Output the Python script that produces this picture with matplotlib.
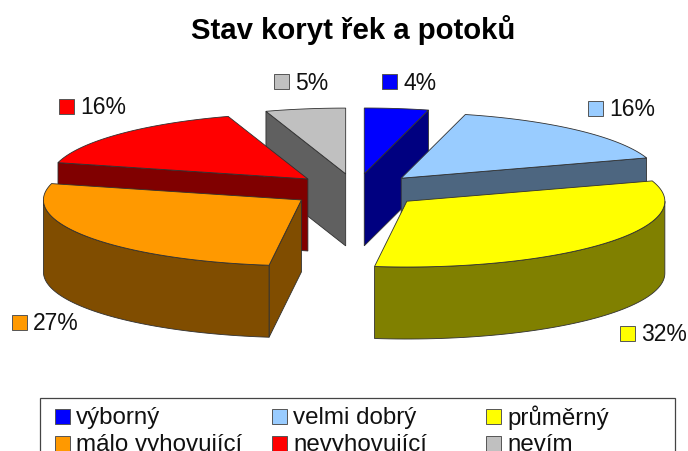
import numpy as np
import matplotlib
matplotlib.use("Agg")
import matplotlib.pyplot as plt
from matplotlib.patches import Polygon, Rectangle

title = "Stav koryt řek a potoků"
categories = ["výborný", "velmi dobrý", "průměrný", "málo vyhovující", "nevyhovující", "nevím"]
values = [4, 16, 32, 27, 16, 5]
top_colors = ["#0000FF", "#99CCFF", "#FFFF00", "#FF9900", "#FF0000", "#C0C0C0"]
side_colors = ["#000080", "#4D6680", "#808000", "#804D00", "#800000", "#606060"]

# pie geometry in pixels
cx, cy = 356, 191.5
R = 258
squash = 0.255
depth = 72
explode = 66
edge = "#303030"

# swatch left/top for the percent labels
label_pos = [(382, 75), (588, 102), (620, 327), (12, 316), (59, 100), (274, 75)]
# legend swatches, 3 columns 2 rows
legend_pos = [(55, 410), (272, 410), (486, 410), (55, 437), (272, 437), (486, 437)]

plt.rcParams['font.family'] = ['Liberation Sans', 'DejaVu Sans']
fig = plt.figure(figsize=(6.88, 4.52), dpi=100)
ax = fig.add_axes([0, 0, 1, 1])
ax.set_xlim(0, 688)
ax.set_ylim(452, 0)
ax.axis("off")


def pt(ox, oy, ang):
    a = np.radians(ang)
    return ox + R * np.sin(a), oy - R * squash * np.cos(a)


def add_side(xs, ys, color, z):
    xs = np.asarray(xs)
    ys = np.asarray(ys)
    px = np.concatenate([xs, xs[::-1]])
    py = np.concatenate([ys, ys[::-1] + depth])
    ax.add_patch(Polygon(np.column_stack([px, py]), fc=color, ec=edge, lw=0.6, zorder=z))


total = float(sum(values))
starts = np.cumsum([0] + values[:-1]) / total * 360
ends = np.cumsum(values) / total * 360

slices = []
for i in range(len(values)):
    mid = np.radians((starts[i] + ends[i]) / 2)
    ox = cx + explode * np.sin(mid)
    oy = cy - explode * squash * np.cos(mid)
    slices.append((oy, i, ox))

# back slices first
for z, (oy, i, ox) in enumerate(sorted(slices)):
    a, b = starts[i], ends[i]
    base = z * 10
    if np.sin(np.radians(a)) < 0:
        x1, y1 = pt(ox, oy, a)
        add_side([ox, x1], [oy, y1], side_colors[i], base)
    if np.sin(np.radians(b)) > 0:
        x1, y1 = pt(ox, oy, b)
        add_side([ox, x1], [oy, y1], side_colors[i], base + 1)
    lo, hi = max(a, 90), min(b, 270)
    if hi > lo:
        xs, ys = pt(ox, oy, np.linspace(lo, hi, 60))
        add_side(xs, ys, side_colors[i], base + 2)
    xs, ys = pt(ox, oy, np.linspace(a, b, 80))
    top = np.column_stack([np.r_[ox, xs], np.r_[oy, ys]])
    ax.add_patch(Polygon(top, fc=top_colors[i], ec=edge, lw=0.6, zorder=base + 3))

ax.text(353, 30, title, fontsize=21.2, fontweight="bold", ha="center", va="center", color="black")

for i, (x, y) in enumerate(label_pos):
    ax.add_patch(Rectangle((x, y), 15, 15, fc=top_colors[i], ec="#555555", lw=0.7, zorder=100))
    ax.text(x + 21, y + 8, "%d%%" % values[i], fontsize=16.5, va="center", ha="left", color="#111111", zorder=100)

# legend box runs off the bottom of the picture
ax.add_patch(Rectangle((40, 399), 635, 70, fc="white", ec="#444444", lw=0.9, zorder=90))
for i, (x, y) in enumerate(legend_pos):
    ax.add_patch(Rectangle((x, y), 15, 15, fc=top_colors[i], ec="#555555", lw=0.7, zorder=100))
    ax.text(x + 21, y + 8, categories[i], fontsize=17.4, va="center", ha="left", color="#111111", zorder=100)

fig.savefig("out.png", dpi=100)
